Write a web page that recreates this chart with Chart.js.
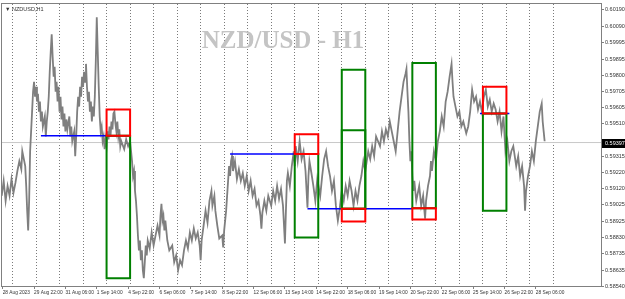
<!DOCTYPE html>
<html><head><meta charset="utf-8">
<script src="https://cdn.jsdelivr.net/npm/chart.js@4.4.0/dist/chart.umd.min.js"></script>
<style>html,body{margin:0;padding:0;background:#fff;overflow:hidden}canvas{display:block}</style>
</head><body>
<canvas id="c" width="625" height="299"></canvas>
<script>
// Hour index counted in trading hours from 28 Aug 2023 00:00 (weekends skipped)
const hours = [13,15,17,19,21,23,25,27,29,31,33,34,37,38,39,40,41,42,43,44,45,46,47,48,49,50,51,52,53,54,55,57,58,59,60,61,62,63,64,65,66,67,68,69,70,71,72,73,74,75,76,77,78,79,80,82,83,84,85,87,88,89,90,91,92,93,94,95,96,97,98,99,100,101,102,103,104,105,106,107,108,109,110,111,112,113,114,115,116,117,118,119,120,121,122,123,124,125,126,127,128,129,130,131,132,133,134,135,138,140,142,144,145,146,147,148,149,150,151,152,153,154,155,156,157,158,159,160,161,162,164,166,168,170,172,174,175,176,177,178,179,180,182,184,187,189,191,193,195,197,199,201,203,205,207,209,211,213,215,216,217,219,221,223,225,227,228,230,231,233,235,238,239,240,242,244,245,246,247,248,249,251,253,255,257,259,261,263,265,267,269,271,273,275,277,278,279,281,283,285,288,290,292,294,296,298,300,302,303,304,305,307,309,311,312,313,315,317,319,321,323,325,326,327,329,331,333,335,338,340,342,344,346,348,350,352,354,356,358,360,362,364,366,368,370,372,374,376,378,380,382,384,387,389,391,393,395,397,399,401,403,405,407,409,411,413,415,417,419,421,423,425,426,427,428,429,430,431,432,433,434,436,439,441,443,445,446,448,450,451,452,454,456,458,460,462,464,466,468,470,472,473,474,476,478,480,482,484,487,489,491,493,495,497,499,501,503,505,507,509,511,513,515,517,519,521,523,525,527,529,531,533,535,538,540,542,544,546,547,548,550,552,554,556,558,560,562,564,565,566,567];
const closes = [0.59079,0.59168,0.59049,0.59138,0.59079,0.59179,0.59096,0.59156,0.59227,0.59286,0.59238,0.59345,0.59256,0.59138,0.58990,0.58872,0.59049,0.59345,0.59464,0.59582,0.59701,0.59760,0.59671,0.59730,0.59642,0.59689,0.59582,0.59642,0.59523,0.59582,0.59493,0.59553,0.59434,0.59523,0.59582,0.59671,0.59819,0.59938,0.60044,0.59908,0.59790,0.59849,0.59701,0.59760,0.59642,0.59730,0.59582,0.59671,0.59535,0.59612,0.59493,0.59570,0.59464,0.59535,0.59476,0.59553,0.59434,0.59493,0.59405,0.59464,0.59316,0.59434,0.59582,0.59671,0.59612,0.59730,0.59671,0.59790,0.59730,0.59819,0.59760,0.59867,0.59730,0.59642,0.59701,0.59582,0.59642,0.59523,0.59612,0.59553,0.59671,0.59879,0.60145,0.59938,0.59730,0.59553,0.59464,0.59493,0.59405,0.59434,0.59357,0.59416,0.59375,0.59464,0.59416,0.59493,0.59434,0.59523,0.59476,0.59570,0.59582,0.59511,0.59464,0.59523,0.59434,0.59476,0.59375,0.59405,0.59357,0.59416,0.59375,0.59405,0.59345,0.59286,0.59197,0.59227,0.59108,0.59049,0.58960,0.58842,0.58753,0.58812,0.58694,0.58753,0.58634,0.58587,0.58682,0.58782,0.58723,0.58812,0.58765,0.58860,0.58782,0.58842,0.58901,0.58842,0.58960,0.59031,0.58931,0.58960,0.58872,0.58931,0.58812,0.58753,0.58782,0.58682,0.58723,0.58634,0.58694,0.58664,0.58753,0.58812,0.58765,0.58860,0.58812,0.58883,0.58824,0.58860,0.58782,0.58694,0.58812,0.58901,0.58990,0.58919,0.59049,0.59108,0.59020,0.59079,0.58990,0.58901,0.58824,0.58842,0.58771,0.58872,0.58990,0.59168,0.59256,0.59197,0.59286,0.59316,0.59227,0.59286,0.59179,0.59238,0.59168,0.59215,0.59138,0.59197,0.59108,0.59168,0.59079,0.59120,0.59020,0.59049,0.58960,0.58883,0.58978,0.59049,0.58990,0.59079,0.59020,0.59108,0.59049,0.59138,0.59061,0.59120,0.59020,0.58794,0.58990,0.59168,0.59215,0.59138,0.59256,0.59345,0.59256,0.59375,0.59286,0.59405,0.59298,0.59345,0.59227,0.59008,0.59197,0.59286,0.59215,0.59138,0.59049,0.59179,0.59079,0.59197,0.59298,0.59345,0.59256,0.59197,0.59108,0.59168,0.59020,0.58931,0.59008,0.59108,0.59049,0.59138,0.59079,0.59168,0.59108,0.59020,0.59108,0.59049,0.59138,0.59197,0.59286,0.59227,0.59345,0.59298,0.59375,0.59316,0.59434,0.59405,0.59375,0.59464,0.59405,0.59476,0.59434,0.59523,0.59464,0.59405,0.59345,0.59464,0.59582,0.59671,0.59760,0.59807,0.59837,0.59701,0.59582,0.59405,0.59286,0.59345,0.59197,0.59108,0.59168,0.59049,0.59138,0.59020,0.59079,0.58942,0.59049,0.59138,0.59197,0.59286,0.59227,0.59345,0.59286,0.59405,0.59464,0.59553,0.59493,0.59642,0.59701,0.59790,0.59867,0.59760,0.59671,0.59612,0.59553,0.59582,0.59493,0.59523,0.59452,0.59493,0.59582,0.59713,0.59642,0.59671,0.59594,0.59642,0.59582,0.59671,0.59713,0.59612,0.59653,0.59582,0.59630,0.59594,0.59523,0.59582,0.59464,0.59553,0.59345,0.59405,0.59286,0.59345,0.59375,0.59256,0.59316,0.59197,0.59256,0.59138,0.58990,0.59108,0.59197,0.59256,0.59345,0.59286,0.59405,0.59493,0.59582,0.59630,0.59523,0.59464,0.59405];
const currentPrice = 0.59397;

const dayStarts = [24,48,72,96,120,144,168,192,216,240,264,288,312,336,360,384,408,432,456,480,504,528,552,576];
const xTickHours = [14,46,78,110,142,174,206,238,270,302,334,366,398,430,462,494,526,558];
const xTickLabels = ["28 Aug 2023","29 Aug 22:00","31 Aug 06:00","1 Sep 14:00","4 Sep 22:00","6 Sep 06:00","7 Sep 14:00","8 Sep 22:00","12 Sep 06:00","13 Sep 14:00","14 Sep 22:00","18 Sep 06:00","19 Sep 14:00","20 Sep 22:00","22 Sep 06:00","25 Sep 14:00","26 Sep 22:00","28 Sep 06:00"];
const yTickValues = [0.60190,0.60090,0.59995,0.59895,0.59800,0.59705,0.59605,0.59510,0.59315,0.59220,0.59120,0.59025,0.58925,0.58830,0.58735,0.58635,0.58540];

// Session boxes (start hour, end hour, high, low)
const redStart = [120,312,360,432,504];
const redEnd   = [144,336,384,456,528];
const redHigh  = [0.59595,0.59446,0.59002,0.59005,0.59731];
const redLow   = [0.59438,0.59328,0.58925,0.58937,0.59571];
const greenStart = [120,312,360,360,432,504];
const greenEnd   = [144,336,384,384,456,528];
const greenHigh  = [0.59438,0.59328,0.59832,0.59470,0.59873,0.59571];
const greenLow   = [0.58587,0.58830,0.59002,0.59002,0.59005,0.58990];
// Blue levels
const blueStart = [53,246,325,501];
const blueEnd   = [144,336,432,531];
const blueLevel = [0.59438,0.59328,0.59002,0.59571];

const xMin = 13.3, xMax = 624.5, yMin = 0.58540, yMax = 0.60223;
const watermark = 'NZD/USD - H1';

const boxPath = (s,e,hi,lo) => [{x:s,y:lo},{x:s,y:hi},{x:e,y:hi},{x:e,y:lo},{x:s,y:lo}];
const datasets = [];
redStart.forEach((s,i)=>datasets.push({data:boxPath(s,redEnd[i],redHigh[i],redLow[i]),borderColor:'#ff0000',borderWidth:2,borderCapStyle:'square',order:1}));
greenStart.forEach((s,i)=>datasets.push({data:boxPath(s,greenEnd[i],greenHigh[i],greenLow[i]),borderColor:'#008000',borderWidth:2,borderCapStyle:'square',order:1}));
blueStart.forEach((s,i)=>datasets.push({data:[{x:s,y:blueLevel[i]},{x:blueEnd[i],y:blueLevel[i]}],borderColor:'#0000ff',borderWidth:1.5,order:2}));
datasets.push({data:hours.map((h,i)=>({x:h,y:closes[i]})),borderColor:'#7f7f7f',borderWidth:1.8,order:3});
datasets.push({data:[{x:xMin,y:currentPrice},{x:xMax,y:currentPrice}],borderColor:'#c8c8c8',borderWidth:1,order:4});
datasets.forEach(d=>{d.showLine=true;d.pointRadius=0;d.fill=false;d.tension=0;});

const decor = {
  id:'decor',
  beforeDatasetsDraw(chart){
    const {ctx, chartArea:a} = chart;
    ctx.save();
    ctx.font = 'bold 25px "Liberation Serif", "DejaVu Serif", serif';
    ctx.fillStyle = '#c4c4c4';
    ctx.textAlign = 'center'; ctx.textBaseline = 'alphabetic';
    ctx.fillText(watermark, a.left + a.width*0.469, 48);
    ctx.font = '5.5px "Liberation Sans", sans-serif';
    ctx.fillStyle = '#333'; ctx.textAlign = 'left'; ctx.textBaseline = 'middle';
    ctx.fillText('\u25BC NZDUSD,H1', a.left+3, a.top+5);
    ctx.restore();
  },
  afterDraw(chart){
    const {ctx, chartArea:a} = chart;
    ctx.save();
    ctx.strokeStyle = '#808080'; ctx.lineWidth = 1;
    ctx.strokeRect(Math.round(a.left)-0.5, Math.round(a.top)-0.5, Math.round(a.width)+1, Math.round(a.height)+1);
    const y = chart.scales.y.getPixelForValue(currentPrice);
    ctx.fillStyle = '#000';
    ctx.fillRect(a.right+1, Math.round(y)-4, 24, 9);
    ctx.fillStyle = '#fff';
    ctx.font = '5.5px "Liberation Sans", sans-serif';
    ctx.textAlign = 'left'; ctx.textBaseline = 'middle';
    ctx.fillText(currentPrice.toFixed(5), a.right+4, Math.round(y)+0.5);
    ctx.restore();
  }
};

new Chart(document.getElementById('c'), {
  type:'scatter',
  data:{datasets},
  plugins:[decor],
  options:{
    responsive:false, animation:false, devicePixelRatio:1,
    layout:{padding:{left:2,top:2,right:0,bottom:0}},
    plugins:{legend:{display:false},tooltip:{enabled:false},title:{display:false}},
    scales:{
      x:{type:'linear',position:'bottom',min:xMin,max:xMax,
        afterBuildTicks:s=>{s.ticks = xTickHours.map(v=>({value:v}));},
        afterFit:s=>{s.height=13;},
        ticks:{autoSkip:false,maxRotation:0,minRotation:0,align:'start',padding:1,
          font:{size:4.8,family:'"Liberation Sans", sans-serif'},color:'#333',
          callback:(v,i)=>xTickLabels[i]},
        grid:{drawOnChartArea:false,drawTicks:true,tickLength:3,color:'#808080'},
        border:{display:false}},
      xg:{type:'linear',position:'top',min:xMin,max:xMax,
        afterBuildTicks:s=>{s.ticks = dayStarts.map(v=>({value:v}));},
        afterFit:s=>{s.height=0;},
        ticks:{display:false},
        grid:{drawTicks:false,color:'#7a7a7a',lineWidth:1},
        border:{display:false,dash:[1,2]}},
      y:{type:'linear',position:'right',min:yMin,max:yMax,
        afterBuildTicks:s=>{s.ticks = yTickValues.map(v=>({value:v}));},
        afterFit:s=>{s.width=24;},
        ticks:{padding:1,font:{size:5.5,family:'"Liberation Sans", sans-serif'},color:'#333',
          callback:v=>Number(v).toFixed(5)},
        grid:{drawOnChartArea:false,drawTicks:true,tickLength:3,color:'#808080'},
        border:{display:false}}
    }
  }
});
</script>
</body></html>
